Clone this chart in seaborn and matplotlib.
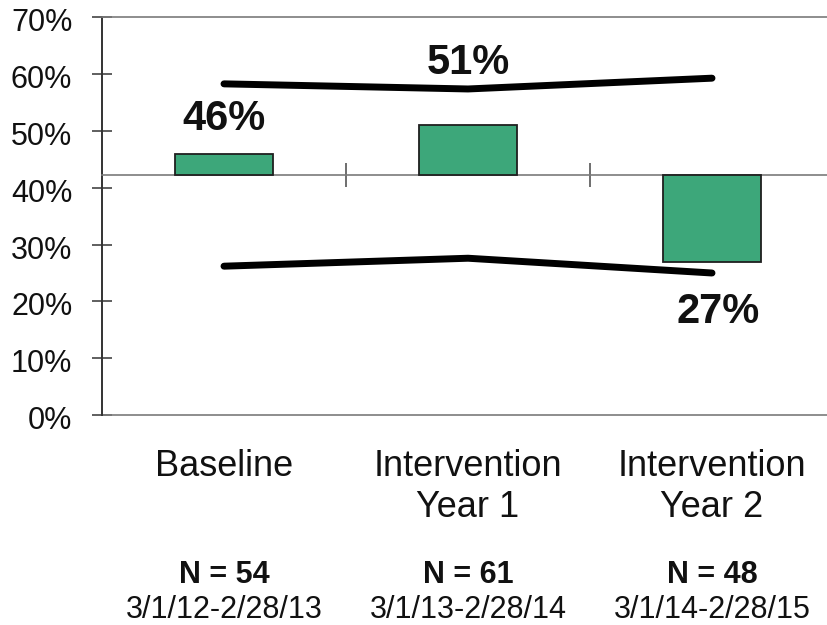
import matplotlib
matplotlib.use("Agg")
import matplotlib.pyplot as plt
import matplotlib.transforms as mtransforms
import seaborn as sns
import pandas as pd

# Chart data
periods = ["Baseline", "Intervention\nYear 1", "Intervention\nYear 2"]
rates = [46, 51, 27]                      # percent, one bar per period
sample_sizes = [54, 61, 48]
date_ranges = ["3/1/12-2/28/13", "3/1/13-2/28/14", "3/1/14-2/28/15"]
center_line = 42.25                       # centre line the bars grow from
upper_limit = [58.3, 57.4, 59.3]
lower_limit = [26.2, 27.6, 25.0]
y_ticks = [0, 10, 20, 30, 40, 50, 60, 70]

sns.set_style("white")
plt.rcParams["font.family"] = ["Liberation Sans", "DejaVu Sans"]

W, H = 828, 625
fig = plt.figure(figsize=(W / 100, H / 100), dpi=100)
ax = fig.add_axes([102 / W, 210 / H, 732 / W, 397.6 / H])

# Bars measured from the centre line
bars = pd.DataFrame({"period": periods,
                     "offset": [r - center_line for r in rates]})
sns.barplot(data=bars, x="period", y="offset", order=periods,
            bottom=center_line, color="#3da77a", saturation=1,
            width=0.405, edgecolor="#1f1f1f", linewidth=1.3,
            errorbar=None, ax=ax, zorder=3)

# Control limits
limits = pd.DataFrame({
    "pos": [0, 1, 2] * 2,
    "limit": upper_limit + lower_limit,
    "kind": ["upper"] * 3 + ["lower"] * 3,
})
sns.lineplot(data=limits, x="pos", y="limit", units="kind", estimator=None,
             color="black", linewidth=5, solid_capstyle="round",
             solid_joinstyle="round", ax=ax, zorder=4, legend=False)

ax.set_xlim(-0.5, 2.5)
ax.set_ylim(0, 70)
ax.set_xlabel("")
ax.set_ylabel("")

ax.set_yticks(y_ticks)
ax.set_yticklabels([f"{t}%" for t in y_ticks])
ax.set_xticks([0.5, 1.5])
ax.set_xticklabels([])

ax.spines["bottom"].set_position(("data", center_line))
ax.spines["bottom"].set_color("#7a7a7a")
ax.spines["bottom"].set_linewidth(1.2)
ax.spines["top"].set_color("#7a7a7a")
ax.spines["top"].set_linewidth(1.2)
ax.spines["right"].set_visible(False)
ax.spines["left"].set_color("#333333")
ax.spines["left"].set_linewidth(1.4)
ax.axhline(0, color="#7a7a7a", lw=1.2, clip_on=False, zorder=2)

ax.tick_params(axis="y", left=True, direction="inout", length=13.7,
               width=1.2, color="#444444", pad=14.5, labelsize=22,
               labelcolor="#111111")
ax.tick_params(axis="x", bottom=True, direction="inout", length=17,
               width=1.2, color="#555555")

# nudge the percentage labels slightly below their ticks
shift = mtransforms.ScaledTranslation(0, -2.5 / 100, fig.dpi_scale_trans)
for lbl in ax.get_yticklabels():
    lbl.set_transform(lbl.get_transform() + shift)

# Value labels
label_y = [50.2, 60.0, 16.2]
label_dx = [0, 0, 0.025]
for i, r in enumerate(rates):
    ax.text(i + label_dx[i], label_y[i], f"{r}%", ha="center", va="baseline",
            fontsize=30, fontweight="bold", color="#111111", zorder=5)

# Period names, sample sizes and date ranges below the plot
trans = mtransforms.blended_transform_factory(ax.transData, fig.transFigure)
for i, name in enumerate(periods):
    for j, line in enumerate(name.split("\n")):
        ax.text(i, (H - 476 - 41 * j) / H, line, transform=trans,
                ha="center", va="baseline", fontsize=26, color="#111111")
    ax.text(i, (H - 583) / H, f"N = {sample_sizes[i]}", transform=trans,
            ha="center", va="baseline", fontsize=22, fontweight="bold",
            color="#111111")
    ax.text(i, (H - 618) / H, date_ranges[i], transform=trans,
            ha="center", va="baseline", fontsize=22, color="#111111")

fig.savefig("out.png", dpi=100)
